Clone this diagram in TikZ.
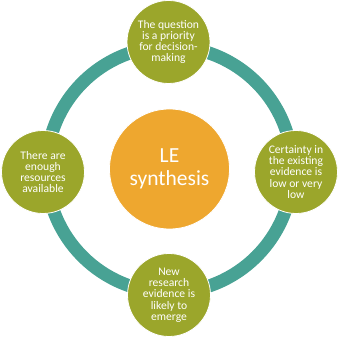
\documentclass[tikz,border=0pt]{standalone}
\usepackage{fontspec}
\setmainfont{Carlito}
\definecolor{ringteal}{RGB}{72,162,148}
\definecolor{olive}{RGB}{155,166,43}
\definecolor{gold}{RGB}{238,167,47}
\begin{document}
\begin{tikzpicture}[x=1pt, y=1pt,
  every node/.style={circle, draw=white, line width=0.8pt, inner sep=0pt, align=center, text=white},
  cond/.style={fill=olive, minimum size=83pt, font=\fontsize{11.6}{11.3}\selectfont},
  core/.style={fill=gold, minimum size=120pt, font=\fontsize{21.5}{23}\selectfont}]
  \useasboundingbox (0,0) rectangle (339,339);
  \draw[ringteal, line width=13pt] (169.5,169.5) circle (123);
  \node[core] (le) at (169.5,170) {LE\\synthesis};
  \node[cond] (prio) at (168.5,297) {The question\\is a priority\\for decision-\\making};
  \node[cond] (cert) at (296,167) {Certainty in\\the existing\\evidence is\\low or very\\low};
  \node[cond] (new) at (169,44) {New\\research\\evidence is\\likely to\\emerge};
  \node[cond] (res) at (43,167) {There are\\enough\\resources\\available};
\end{tikzpicture}
\end{document}
